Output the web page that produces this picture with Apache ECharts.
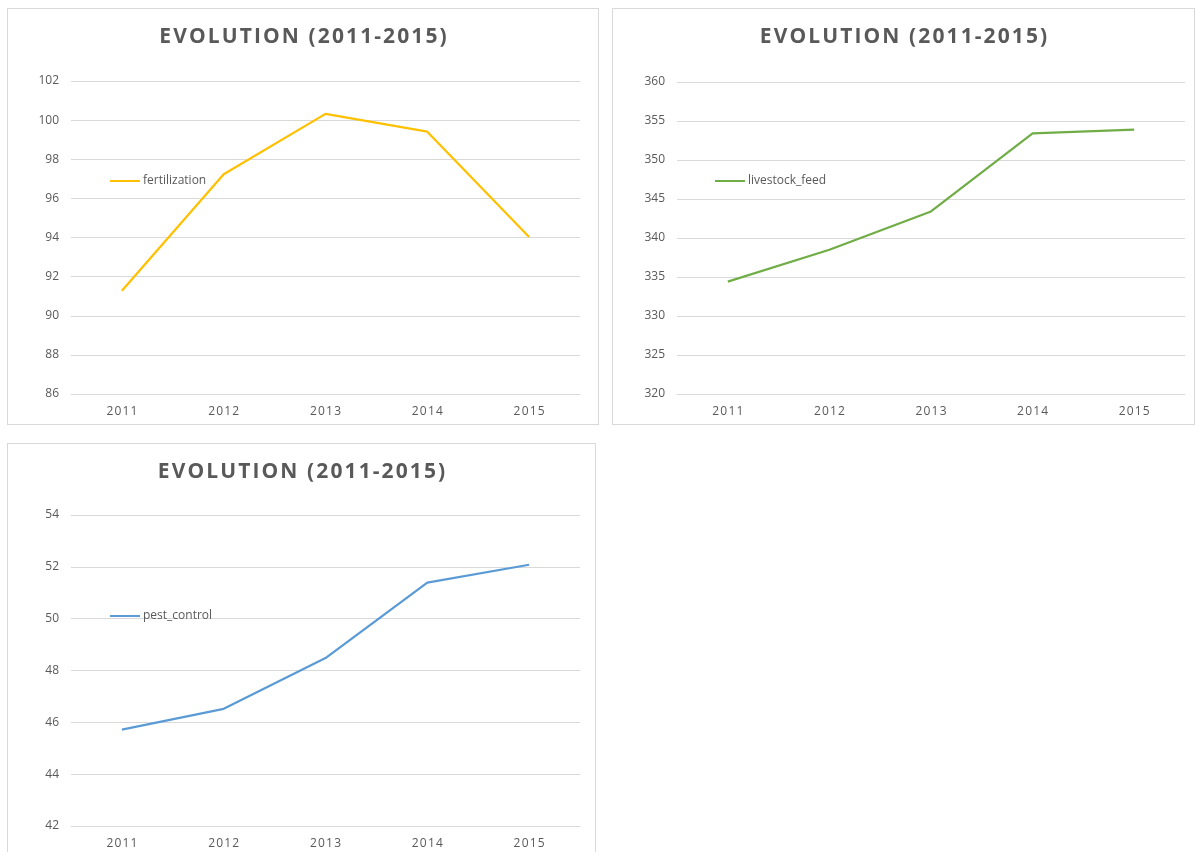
<!DOCTYPE html>
<html>
<head>
<meta charset="utf-8">
<script src="https://cdn.jsdelivr.net/npm/echarts@6/dist/echarts.min.js"></script>
<style>
  body { margin: 0; background: #fff; width: 1195px; height: 852px; overflow: hidden; position: relative; }
  .panel { position: absolute; border: 1px solid #d9d9d9; box-sizing: border-box; background: #fff; }
</style>
</head>
<body>
<div id="c1" class="panel" style="left:7px;top:8px;width:592px;height:417px"></div>
<div id="c2" class="panel" style="left:612px;top:8px;width:583px;height:417px"></div>
<div id="c3" class="panel" style="left:7px;top:443px;width:589px;height:420px"></div>
<script>
const years = ["2011", "2012", "2013", "2014", "2015"]

const fertilization = [91.28, 97.23, 100.32, 99.41, 94.03]
const livestockFeed = [334.4, 338.5, 343.4, 353.4, 353.9]
const pestControl = [45.72, 46.52, 48.48, 51.39, 52.08]

const titleText = "EVOLUTION (2011-2015)"

// excel titles are spaced out, canvas has no letterSpacing so pad with hair spaces
const spaced = (s) => s.split("").join("\u200A")

const makeOption = (name, values, color, min, max, step, grid) => {
  return {
    animation: false,
    title: {
      text: spaced(titleText),
      left: "center",
      top: 13,
      textStyle: {
        fontFamily: "Open Sans",
        fontWeight: "bold",
        fontSize: 21,
        color: "#595959"
      }
    },
    legend: {
      left: 97,
      top: 161,
      itemWidth: 30,
      itemHeight: 10,
      itemGap: 4,
      icon: "path://M0,4 L30,4 L30,6 L0,6 Z",
      textStyle: { fontFamily: "Open Sans", fontSize: 12, color: "#595959", padding: [0, 0, 0, -2] },
      data: [name]
    },
    grid: grid,
    xAxis: {
      type: "category",
      data: years,
      boundaryGap: true,
      axisLine: { lineStyle: { color: "#d9d9d9" } },
      axisTick: { show: false },
      axisLabel: {
        color: "#595959", fontFamily: "Open Sans", fontSize: 12, margin: 12,
        formatter: (v) => spaced(v)
      }
    },
    yAxis: {
      type: "value",
      min: min,
      max: max,
      interval: step,
      axisLine: { show: false },
      axisTick: { show: false },
      splitLine: { lineStyle: { color: "#d9d9d9" } },
      axisLabel: { color: "#595959", fontFamily: "Open Sans", fontSize: 12, margin: 12 }
    },
    series: [
      {
        name: name,
        type: "line",
        data: values,
        symbol: "none",
        itemStyle: { color: color },
        lineStyle: { color: color, width: 2.25 }
      }
    ]
  }
}

const charts = [
  ["c1", makeOption("fertilization", fertilization, "#FFC000", 86, 102, 2, { left: 63, right: 18, top: 72, bottom: 30 })],
  ["c2", makeOption("livestock_feed", livestockFeed, "#70AD47", 320, 360, 5, { left: 64, right: 9, top: 73, bottom: 30 })],
  ["c3", makeOption("pest_control", pestControl, "#5B9BD5", 42, 54, 2, { left: 63, right: 15, top: 71, bottom: 36 })]
]

charts.forEach(([id, option]) => {
  const chart = echarts.init(document.getElementById(id))
  chart.setOption(option)
})
</script>
</body>
</html>
